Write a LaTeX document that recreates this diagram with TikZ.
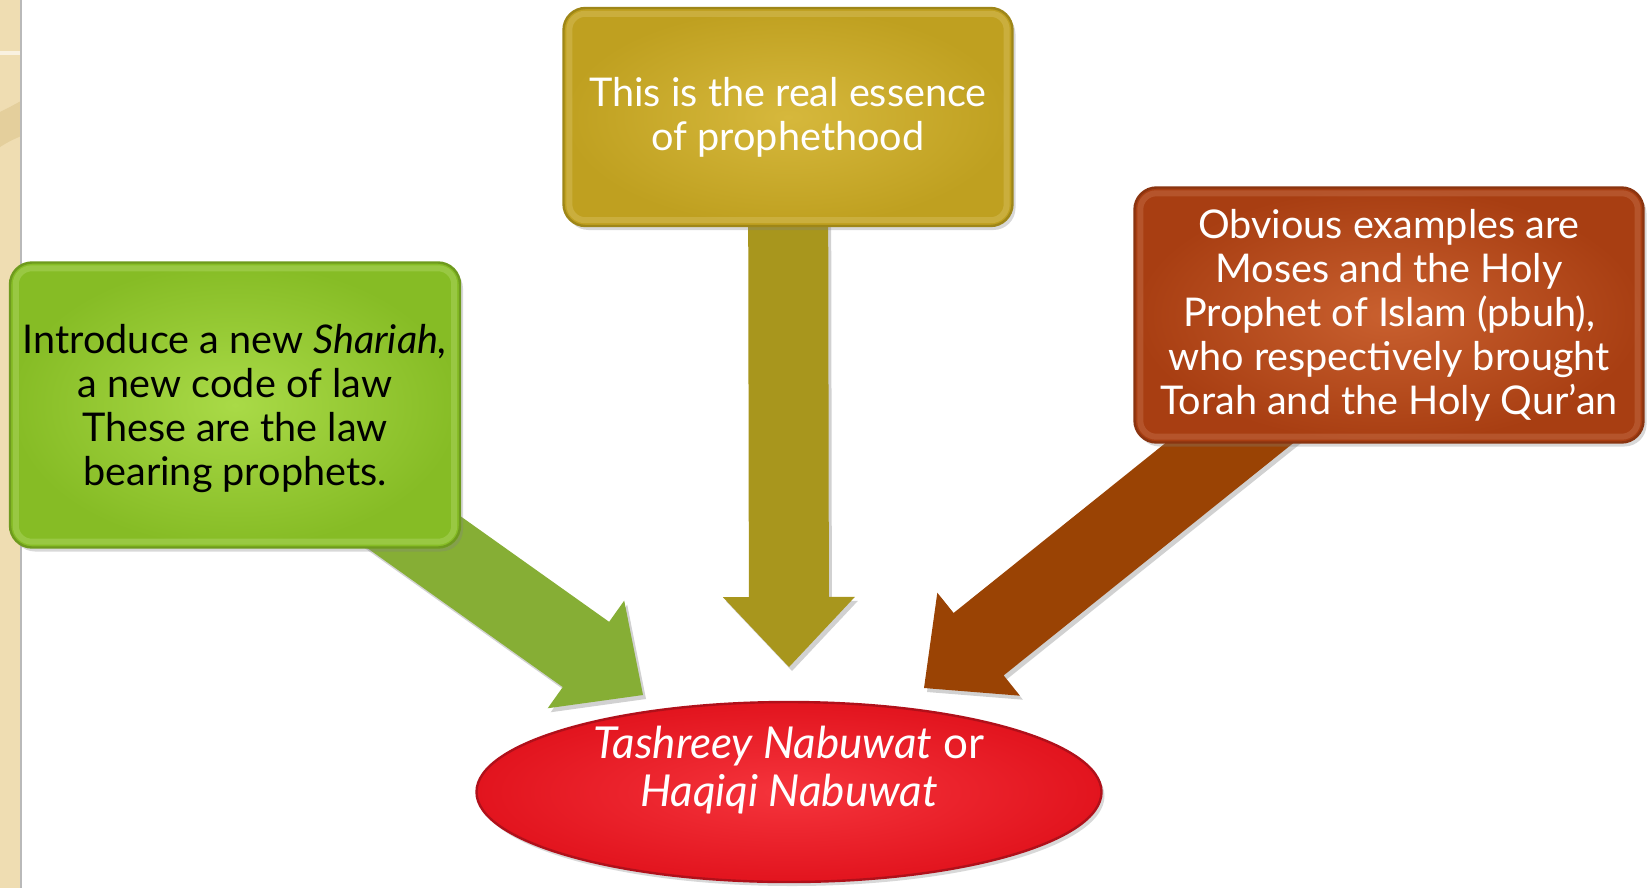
\documentclass[tikz,border=0pt]{standalone}
\usepackage{fontspec}
\setmainfont{Lato}
\usetikzlibrary{calc,shadows,shapes.geometric}
\pgfdeclarelayer{bg}
\pgfsetlayers{bg,main}
\definecolor{stripc}{HTML}{EFDDB2}
\definecolor{stripd}{HTML}{E4CF9C}
\definecolor{greenI}{HTML}{A9DA47}
\definecolor{greenO}{HTML}{86BC25}
\definecolor{greenB}{HTML}{6E9A1E}
\definecolor{greenA}{HTML}{86AE35}
\definecolor{yelI}{HTML}{D6B83C}
\definecolor{yelO}{HTML}{BFA020}
\definecolor{yelB}{HTML}{9E8618}
\definecolor{yelA}{HTML}{A8961D}
\definecolor{orI}{HTML}{C9602F}
\definecolor{orO}{HTML}{A83E12}
\definecolor{orB}{HTML}{8A3410}
\definecolor{orA}{HTML}{9A4304}
\definecolor{redI}{HTML}{F5343C}
\definecolor{redO}{HTML}{E2141E}
\definecolor{redB}{HTML}{B0101A}
\newcommand\boxfont{\fontsize{19.8pt}{22pt}\selectfont}
\newcommand\ellfont{\fontsize{22pt}{24.2pt}\selectfont}
\newcommand\blockarrow[4]{%
  \coordinate (#1h) at ($(#3)!35pt!(#2)$);
  \fill[#4] ($(#2)!20pt!90:(#3)$) -- ($(#1h)!20pt!90:(#3)$) -- ($(#1h)!33pt!90:(#3)$)
    -- (#3) -- ($(#1h)!33pt!-90:(#3)$) -- ($(#1h)!20pt!-90:(#3)$) -- ($(#2)!20pt!-90:(#3)$) -- cycle;
}
\newcommand\bevel[2]{%
  \draw[#2, line width=3pt, opacity=0.28, rounded corners=8pt]
    ([shift={(7,7)}]#1.north west) rectangle ([shift={(-7,-7)}]#1.south east);
}
\tikzset{
  boxbase/.style={rectangle, rounded corners=11pt, line width=1.2pt, align=center, inner sep=0pt,
    font=\boxfont, drop shadow={opacity=0.3, shadow xshift=1.5pt, shadow yshift=-2pt}},
  greenbox/.style={boxbase, draw=greenB, inner color=greenI, outer color=greenO,
    minimum width=225pt, minimum height=142.5pt, text=black},
  yelbox/.style={boxbase, draw=yelB, inner color=yelI, outer color=yelO,
    minimum width=224.5pt, minimum height=109pt, text=white},
  orbox/.style={boxbase, draw=orB, inner color=orI, outer color=orO,
    minimum width=254.5pt, minimum height=127.5pt, text=white},
  redell/.style={ellipse, draw=redB, line width=1.2pt, inner color=redI, outer color=redO,
    minimum width=312.5pt, minimum height=90pt, inner sep=0pt,
    drop shadow={opacity=0.3, shadow xshift=1.5pt, shadow yshift=-2pt}},
  elltext/.style={align=center, text=white, font=\ellfont, inner sep=0pt},
  arrowshade/.style={fill=#1, preaction={fill=black, opacity=0.18, transform canvas={shift={(1.5pt,-2pt)}}}}
}
\begin{document}
\begin{tikzpicture}[x=0.5pt, y=-0.5pt]
\useasboundingbox (0,0) rectangle (1652,888);
\begin{pgfonlayer}{bg}
\fill[white] (0,0) rectangle (1652,888);
\end{pgfonlayer}
% left decorative strip
\fill[stripc] (0,0) rectangle (21,888);
\fill[stripd] (0,112) .. controls (8,108) .. (21,101) -- (21,136) .. controls (8,142) .. (0,147) -- cycle;
\draw[white!60!stripc, line width=2pt] (0,53) -- (21,53);
\draw[gray!55, line width=0.8pt] (21,0) -- (21,888);

% boxes
\node[greenbox] (green) at (235,405) {};
\bevel{green}{greenI!60!white}
\node[align=center, font=\boxfont, text=black, inner sep=0pt] (greentxt) at (235,409) {Introduce a new \textit{Shariah,}\\a new code of law\\These are the law\\bearing prophets.};
\node[yelbox] (yellow) at (788,117) {};
\bevel{yellow}{yelI!60!white}
\node[align=center, font=\boxfont, text=white, inner sep=0pt] (yellowtxt) at (788,117) {This is the real essence\\of prophethood};
\node[orbox] (orange) at (1389,315) {};
\bevel{orange}{orI!70!white}
\node[align=center, font=\boxfont, text=white, inner sep=0pt] (orangetxt) at (1389,315) {Obvious examples are\\Moses and the Holy\\Prophet of Islam (pbuh),\\who respectively brought\\Torah and the Holy Qur’an};

% arrow tips
\coordinate (gtip) at (643,695);
\coordinate (ytip) at (789,667);
\coordinate (otip) at (924,688);

\begin{pgfonlayer}{bg}
\blockarrow{ga}{green}{gtip}{arrowshade=greenA}
\blockarrow{ya}{yellow}{ytip}{arrowshade=yelA}
\blockarrow{oa}{orange}{otip}{arrowshade=orA}
\end{pgfonlayer}

\node[redell] (red) at (789,792) {};
\node[elltext] (redtxt) at (789,770) {\textit{Tashreey Nabuwat} or\\\textit{Haqiqi Nabuwat}};
\end{tikzpicture}
\end{document}
